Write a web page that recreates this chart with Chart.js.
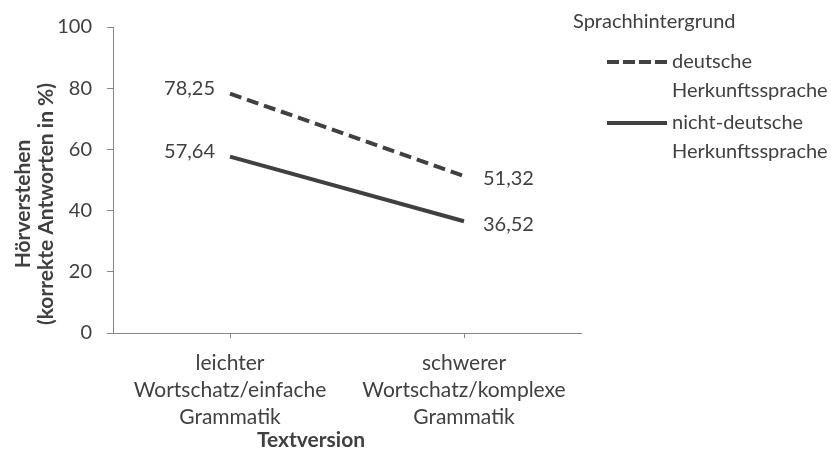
<!DOCTYPE html>
<html>
<head>
<meta charset="utf-8">
<script src="https://cdn.jsdelivr.net/npm/chart.js@4.4.0/dist/chart.umd.min.js"></script>
<style>
  html, body { margin: 0; padding: 0; background: #fff; }
</style>
</head>
<body>
<canvas id="chart" width="831" height="452"></canvas>
<script>
// data
const categories = [
  ['leichter', 'Wortschatz/einfache', 'Grammatik'],
  ['schwerer', 'Wortschatz/komplexe', 'Grammatik']
];
const deutsche = [78.25, 51.32];
const nichtDeutsche = [57.64, 36.52];
const seriesNames = [['deutsche', 'Herkunftssprache'], ['nicht-deutsche', 'Herkunftssprache']];
const yTicks = [0, 20, 40, 60, 80, 100];
const legendTitle = 'Sprachhintergrund';
const xTitle = 'Textversion';
const yTitle = ['Hörverstehen', '(korrekte Antworten in %)'];

const textColor = '#404040';
const lineColor = '#404040';
const axisColor = '#868686';
const fontFamily = 'Lato';

// value labels, axis titles and the legend
const extras = {
  id: 'extras',
  afterDatasetsDraw(chart) {
    const ctx = chart.ctx;
    const area = chart.chartArea;
    ctx.save();
    ctx.fillStyle = textColor;
    ctx.font = '20px ' + fontFamily;
    ctx.textBaseline = 'middle';
    chart.data.datasets.forEach((ds, i) => {
      const meta = chart.getDatasetMeta(i);
      meta.data.forEach((pt, j) => {
        const txt = ds.data[j].toFixed(2).replace('.', ',');
        if (j === 0) {
          ctx.textAlign = 'right';
          ctx.fillText(txt, pt.x - 15, pt.y - 5);
        } else {
          ctx.textAlign = 'left';
          ctx.fillText(txt, pt.x + 19, pt.y + 3);
        }
      });
    });

    // axis titles
    ctx.font = 'bold 21px ' + fontFamily;
    ctx.textAlign = 'center';
    ctx.fillText(xTitle, 311, 440);
    ctx.save();
    ctx.translate(0, 204);
    ctx.rotate(-Math.PI / 2);
    ctx.fillText(yTitle[0], 0, 23);
    ctx.fillText(yTitle[1], 0, 46);
    ctx.restore();

    // legend
    const lx = area.right;
    ctx.font = '20px ' + fontFamily;
    ctx.textAlign = 'left';
    ctx.fillText(legendTitle, lx - 8, 22);
    chart.data.datasets.forEach((ds, i) => {
      const y = 62 + i * 61;
      ctx.save();
      ctx.strokeStyle = ds.borderColor;
      ctx.lineWidth = ds.borderWidth;
      ctx.setLineDash(ds.borderDash ? [12, 4] : []);
      ctx.beginPath();
      ctx.moveTo(lx + 26, y);
      ctx.lineTo(lx + 86, y);
      ctx.stroke();
      ctx.restore();
      seriesNames[i].forEach((line, k) => {
        ctx.fillText(line, lx + 91, y + k * 29);
      });
    });
    ctx.restore();
  }
};

new Chart(document.getElementById('chart'), {
  type: 'line',
  data: {
    labels: categories,
    datasets: [
      {
        label: seriesNames[0].join(' '),
        data: deutsche,
        borderColor: lineColor,
        borderWidth: 4,
        borderDash: [12, 6],
        pointRadius: 0,
        tension: 0
      },
      {
        label: seriesNames[1].join(' '),
        data: nichtDeutsche,
        borderColor: lineColor,
        borderWidth: 4,
        pointRadius: 0,
        tension: 0
      }
    ]
  },
  options: {
    responsive: false,
    animation: false,
    layout: { padding: { left: 0, top: 24, right: 250, bottom: 0 } },
    plugins: {
      legend: { display: false },
      tooltip: { enabled: false }
    },
    scales: {
      x: {
        offset: true,
        afterFit: (scale) => { scale.height = 119; },
        border: { display: true, color: axisColor, width: 1 },
        grid: { drawOnChartArea: false, drawTicks: true, tickLength: 5, color: axisColor },
        ticks: {
          color: textColor,
          font: { family: fontFamily, size: 21, lineHeight: 27 / 21 },
          padding: 12,
          maxRotation: 0,
          autoSkip: false
        }
      },
      y: {
        min: 0,
        max: 100,
        afterFit: (scale) => { scale.width = 113; },
        afterBuildTicks: (scale) => { scale.ticks = yTicks.map(v => ({ value: v })); },
        border: { display: true, color: axisColor, width: 1 },
        grid: { drawOnChartArea: false, drawTicks: true, tickLength: 6, color: axisColor },
        ticks: {
          color: textColor,
          font: { family: fontFamily, size: 20 },
          padding: 15
        }
      }
    }
  },
  plugins: [extras]
});
</script>
</body>
</html>
